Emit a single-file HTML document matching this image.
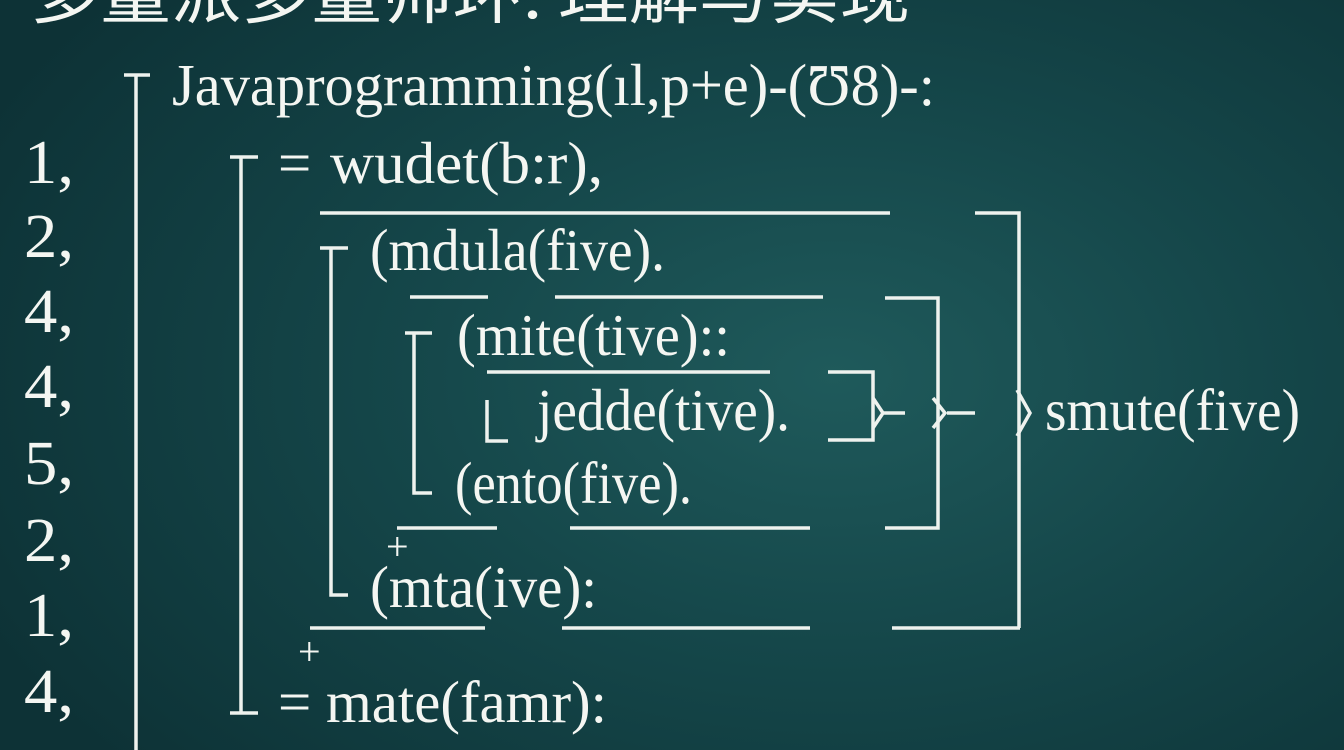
<!DOCTYPE html>
<html><head><meta charset="utf-8"><style>
html,body{margin:0;padding:0;}
body{width:1344px;height:750px;overflow:hidden;background:radial-gradient(ellipse 70% 80% at 62% 50%,#1f5a5b 0%,#15474a 45%,#0d3236 100%);}
svg{position:absolute;left:0;top:0;}
text{font-family:"Liberation Serif","Noto Serif CJK SC",serif;fill:#f4f6f2;}
.l{stroke:#eef2ee;stroke-width:3.5;fill:none;}
</style></head><body>
<svg width="1344" height="750" viewBox="0 0 1344 750" overflow="hidden">
<text x="30" y="18" font-size="62" textLength="880" lengthAdjust="spacingAndGlyphs" style="font-family:'Noto Sans CJK SC',sans-serif">多量派多量帅环. 理解与实现</text>
<g font-size="62">
<text x="24" y="183" textLength="50" lengthAdjust="spacingAndGlyphs">1,</text>
<text x="24" y="257" textLength="50" lengthAdjust="spacingAndGlyphs">2,</text>
<text x="24" y="332" textLength="50" lengthAdjust="spacingAndGlyphs">4,</text>
<text x="24" y="407" textLength="50" lengthAdjust="spacingAndGlyphs">4,</text>
<text x="24" y="484" textLength="50" lengthAdjust="spacingAndGlyphs">5,</text>
<text x="24" y="561" textLength="50" lengthAdjust="spacingAndGlyphs">2,</text>
<text x="24" y="636" textLength="50" lengthAdjust="spacingAndGlyphs">1,</text>
<text x="24" y="712" textLength="50" lengthAdjust="spacingAndGlyphs">4,</text>
</g>
<g font-size="59">
<text x="172" y="105" textLength="763" lengthAdjust="spacingAndGlyphs">Javaprogramming(ıl,p+e)-(Ʊ8)-:</text>
<text x="278" y="183">=</text>
<text x="330" y="183" textLength="273" lengthAdjust="spacingAndGlyphs">wudet(b:r),</text>
<text x="370" y="270" textLength="295" lengthAdjust="spacingAndGlyphs">(mdula(five).</text>
<text x="457" y="355" textLength="273" lengthAdjust="spacingAndGlyphs">(mite(tive)::</text>
<text x="537" y="430" textLength="253" lengthAdjust="spacingAndGlyphs">jedde(tive).</text>
<text x="455" y="503" textLength="237" lengthAdjust="spacingAndGlyphs">(ento(five).</text>
<text x="370" y="607" textLength="227" lengthAdjust="spacingAndGlyphs">(mta(ive):</text>
<text x="278" y="722">=</text>
<text x="326" y="722" textLength="281" lengthAdjust="spacingAndGlyphs">mate(famr):</text>
<text x="1045" y="430" textLength="255" lengthAdjust="spacingAndGlyphs">smute(five)</text>
</g>
<g font-size="40"><text x="386" y="560">+</text><text x="298" y="665">+</text></g>
<g class="l">
<path d="M124 75H150M136 75V750"/>
<path d="M230 157H258M241 157V713H258M230 713H241"/>
<path d="M320 248H348M331 248V595H348"/>
<path d="M405 333H432M414 333V493H432"/>
<path d="M487 400V441H508"/>
<path d="M320 213H890"/>
<path d="M410 297H488M555 297H823"/>
<path d="M487 372H770"/>
<path d="M397 528H497M570 528H810"/>
<path d="M310 628H485M562 628H810M892 628H1020"/>
<path d="M975 213H1019V628"/>
<path d="M885 298H938V528H885"/>
<path d="M828 372H873V440H828"/>
<path d="M873 398L883 413L873 428M883 413H905"/>
<path d="M933 398L945 413L933 428M947 413H975"/>
<path d="M1017 390L1030 413L1017 436"/>
</g>
</svg>
</body></html>
